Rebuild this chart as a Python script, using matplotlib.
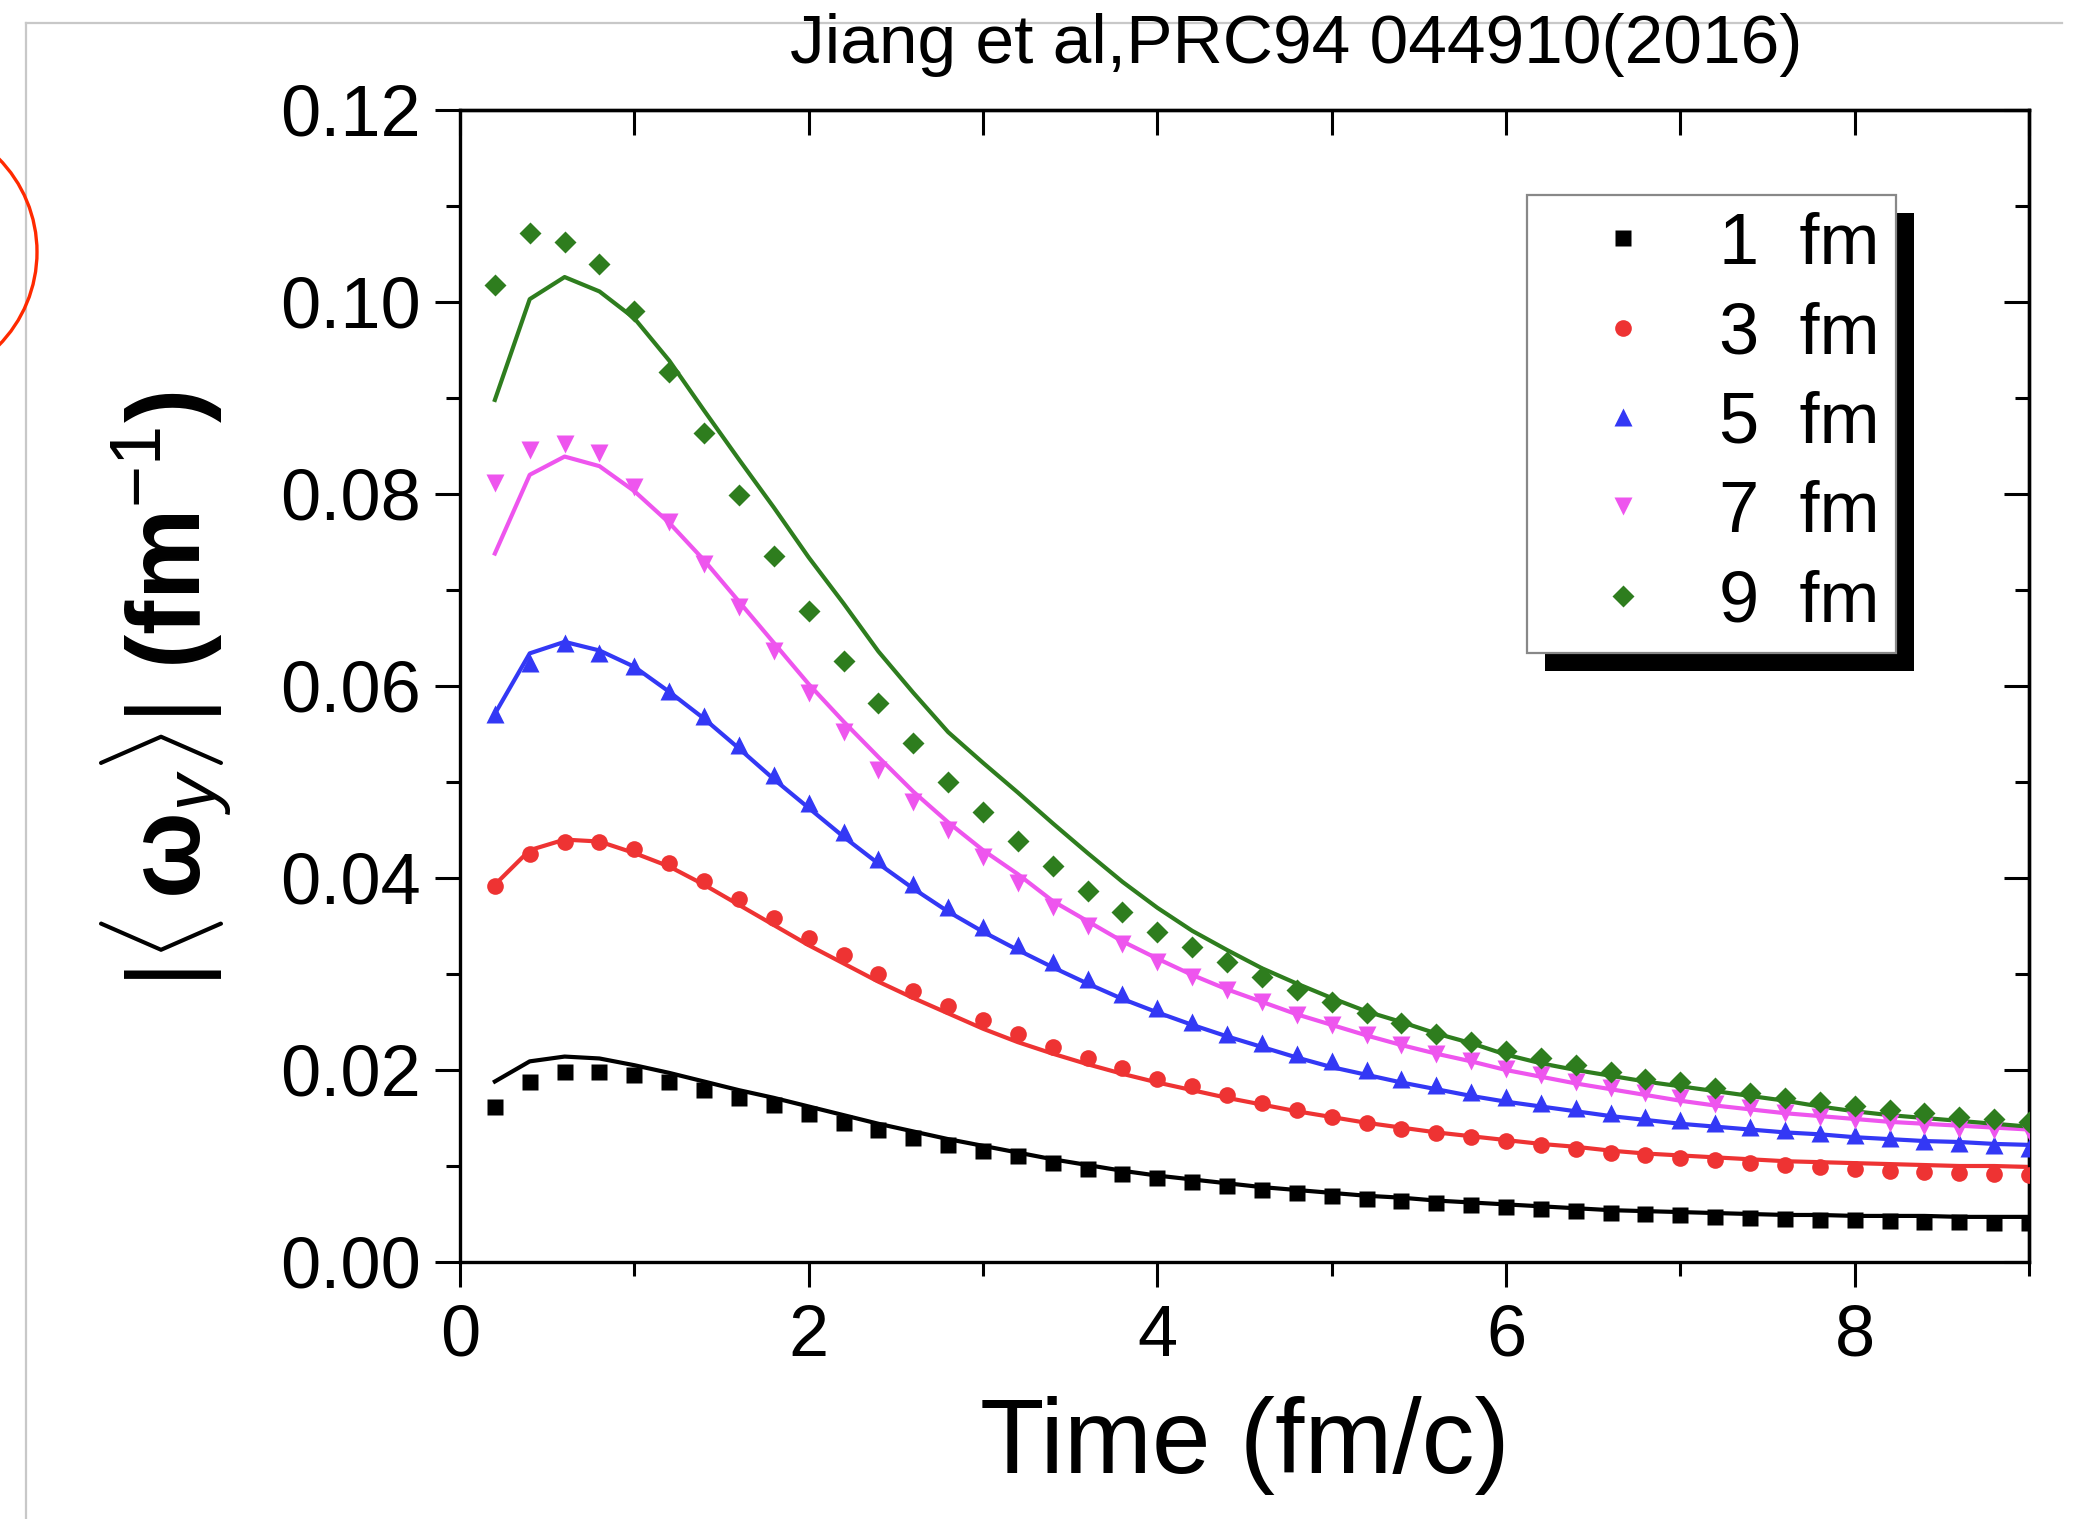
import matplotlib
matplotlib.use("Agg")
import matplotlib.pyplot as plt
from matplotlib.patches import Ellipse, Rectangle
from matplotlib.lines import Line2D
from matplotlib.ticker import MultipleLocator, FormatStrFormatter

plt.rcParams['font.family'] = ['Liberation Sans', 'DejaVu Sans']
plt.rcParams['mathtext.fontset'] = 'custom'
plt.rcParams['mathtext.rm'] = 'Liberation Sans'
plt.rcParams['mathtext.it'] = 'Liberation Sans:italic'
plt.rcParams['mathtext.bf'] = 'Liberation Sans:bold'

# time steps (fm/c)
t = [0.2, 0.4, 0.6, 0.8, 1.0, 1.2, 1.4, 1.6, 1.8, 2.0, 2.2, 2.4, 2.6, 2.8, 3.0,
     3.2, 3.4, 3.6, 3.8, 4.0, 4.2, 4.4, 4.6, 4.8, 5.0, 5.2, 5.4, 5.6, 5.8, 6.0,
     6.2, 6.4, 6.6, 6.8, 7.0, 7.2, 7.4, 7.6, 7.8, 8.0, 8.2, 8.4, 8.6, 8.8, 9.0]

labels = ["1  fm", "3  fm", "5  fm", "7  fm", "9  fm"]

# symbols
b1_pts = [.0161, .0188, .0198, .0198, .0195, .0188, .0179, .0171, .0164, .0154, .0145, .0137, .0129, .0122, .0116,
          .0110, .0103, .0097, .0092, .0087, .0083, .0079, .0075, .0072, .0069, .0066, .0064, .0061, .0059, .0057,
          .0055, .0053, .0051, .0050, .0049, .0047, .0046, .0045, .0044, .0044, .0043, .0042, .0042, .0041, .0041]
b3_pts = [.0392, .0425, .0437, .0437, .0430, .0416, .0397, .0378, .0358, .0337, .0320, .0300, .0282, .0267, .0252,
          .0238, .0224, .0212, .0202, .0191, .0183, .0174, .0166, .0158, .0151, .0145, .0139, .0134, .0130, .0126,
          .0122, .0118, .0114, .0111, .0108, .0106, .0103, .0101, .0099, .0097, .0095, .0094, .0093, .0092, .0091]
b5_pts = [.0571, .0624, .0645, .0634, .0621, .0595, .0569, .0539, .0507, .0478, .0448, .0420, .0394, .0370, .0349,
          .0330, .0312, .0295, .0279, .0265, .0250, .0238, .0228, .0217, .0209, .0200, .0191, .0184, .0177, .0172,
          .0166, .0160, .0155, .0151, .0148, .0145, .0141, .0138, .0134, .0132, .0129, .0126, .0124, .0122, .0119]
b7_pts = [.0811, .0846, .0852, .0843, .0807, .0771, .0727, .0682, .0636, .0593, .0552, .0512, .0479, .0450, .0422,
          .0395, .0370, .0350, .0331, .0313, .0297, .0283, .0271, .0257, .0247, .0236, .0226, .0217, .0209, .0201,
          .0195, .0188, .0181, .0176, .0171, .0165, .0160, .0155, .0151, .0148, .0145, .0142, .0139, .0137, .0136]
b9_pts = [.1018, .1072, .1063, .1040, .0991, .0927, .0864, .0799, .0735, .0678, .0626, .0582, .0541, .0500, .0469,
          .0439, .0412, .0386, .0365, .0344, .0328, .0312, .0297, .0283, .0271, .0259, .0249, .0238, .0229, .0220,
          .0212, .0205, .0198, .0191, .0187, .0181, .0176, .0171, .0167, .0163, .0158, .0155, .0151, .0149, .0146]

# lines
b1_line = [.0188, .0209, .0214, .0212, .0205, .0197, .0188, .0179, .0171, .0162, .0153, .0144, .0136, .0128, .0121,
           .0114, .0107, .0101, .0095, .0090, .0086, .0082, .0078, .0075, .0072, .0069, .0067, .0064, .0062, .0060,
           .0058, .0056, .0054, .0053, .0052, .0051, .0050, .0049, .0049, .0048, .0048, .0048, .0047, .0047, .0047]
b3_line = [.0393, .0429, .0440, .0438, .0426, .0412, .0393, .0372, .0351, .0330, .0311, .0292, .0275, .0259, .0243,
           .0229, .0217, .0206, .0196, .0187, .0179, .0171, .0164, .0157, .0151, .0145, .0140, .0135, .0131, .0127,
           .0123, .0120, .0116, .0113, .0111, .0109, .0107, .0105, .0104, .0103, .0102, .0101, .0100, .0100, .0099]
b5_line = [.0571, .0634, .0646, .0637, .0620, .0594, .0566, .0535, .0503, .0473, .0443, .0415, .0389, .0365, .0344,
           .0325, .0307, .0290, .0274, .0260, .0247, .0235, .0224, .0213, .0203, .0195, .0187, .0180, .0173, .0167,
           .0162, .0157, .0152, .0148, .0144, .0141, .0138, .0135, .0133, .0130, .0128, .0126, .0125, .0123, .0122]
b7_line = [.0738, .0820, .0839, .0829, .0803, .0770, .0731, .0688, .0645, .0602, .0563, .0526, .0490, .0458, .0429,
           .0404, .0376, .0355, .0334, .0316, .0299, .0284, .0271, .0258, .0247, .0236, .0226, .0217, .0209, .0200,
           .0193, .0186, .0180, .0174, .0168, .0163, .0159, .0155, .0152, .0149, .0146, .0144, .0142, .0140, .0138]
b9_line = [.0898, .1003, .1026, .1011, .0983, .0939, .0887, .0836, .0786, .0734, .0686, .0636, .0593, .0552, .0520,
           .0489, .0457, .0426, .0396, .0369, .0345, .0325, .0306, .0290, .0275, .0261, .0250, .0238, .0228, .0216,
           .0207, .0200, .0194, .0188, .0183, .0178, .0173, .0168, .0162, .0157, .0153, .0150, .0147, .0144, .0141]

colors = ['black', '#EE3333', '#3338F5', '#EE55EE', '#2E7D1E']
markers = ['s', 'o', '^', 'v', 'D']
msizes = [11, 12, 13.5, 13.5, 11]
pts = [b1_pts, b3_pts, b5_pts, b7_pts, b9_pts]
lines = [b1_line, b3_line, b5_line, b7_line, b9_line]

fig = plt.figure(figsize=(20.9, 15.19), dpi=100)
ax = fig.add_axes([460 / 2090, 1 - 1262 / 1519, (2029 - 460) / 2090, (1262 - 110) / 1519])

handles = []
for i in range(5):
    ax.plot(t, lines[i], color=colors[i], lw=3.0, zorder=2)
    h, = ax.plot(t, pts[i], ls='none', marker=markers[i], ms=msizes[i],
                 mfc=colors[i], mec='none', color=colors[i], zorder=3)
    handles.append(h)

ax.set_xlim(0, 9)
ax.set_ylim(0, 0.12)
ax.xaxis.set_major_locator(MultipleLocator(2))
ax.xaxis.set_minor_locator(MultipleLocator(1))
ax.yaxis.set_major_locator(MultipleLocator(0.02))
ax.yaxis.set_minor_locator(MultipleLocator(0.01))
ax.yaxis.set_major_formatter(FormatStrFormatter('%.2f'))

for s in ax.spines.values():
    s.set_linewidth(2.4)
ax.tick_params(which='both', direction='out', width=2.2, labelsize=52, top=False, right=False)
ax.tick_params(which='major', length=18)
ax.tick_params(which='minor', length=10)
ax.tick_params(axis='y', pad=10)
ax.tick_params(axis='x', pad=12)

# inward ticks on the top and right spines
top = ax.secondary_xaxis('top')
top.xaxis.set_major_locator(MultipleLocator(1))
right = ax.secondary_yaxis('right')
right.yaxis.set_major_locator(MultipleLocator(0.02))
right.yaxis.set_minor_locator(MultipleLocator(0.01))
for sec in (top, right):
    sec.tick_params(which='both', direction='in', width=2.2, labeltop=False, labelright=False,
                    labelleft=False, labelbottom=False)
    sec.tick_params(which='major', length=18)
    sec.tick_params(which='minor', length=10)
    for s in sec.spines.values():
        s.set_linewidth(2.4)

ax.set_xlabel('Time (fm/c)', fontsize=76, labelpad=18)
fig.text(166 / 2090, 1 - 690 / 1519, r'$|\langle\,$ω$_y\rangle|$ (fm$^{-1}$)',
         fontsize=74, fontweight='bold', rotation=90, ha='center', va='center')

leg = ax.legend(handles, labels, loc='upper left',
                bbox_to_anchor=(1527 / 2090, 1 - 195 / 1519), bbox_transform=fig.transFigure,
                fontsize=52, frameon=True, fancybox=False, borderpad=0.23,
                handlelength=2.2, handletextpad=0.23, labelspacing=0.31, borderaxespad=0)
leg.get_frame().set_edgecolor('#888888')
leg.get_frame().set_linewidth(1.6)
leg.get_frame().set_alpha(1)
leg.set_zorder(7)

# title and slide decorations
fig.text(1296 / 2090, 1 - 63 / 1519, 'Jiang et al,PRC94 044910(2016)', fontsize=50,
         ha='center', va='baseline', zorder=5)
fig.add_artist(Line2D([26 / 2090, 26 / 2090], [0, 1 - 23 / 1519], color='#C8C8C8', lw=1.6, zorder=0))
fig.add_artist(Line2D([26 / 2090, 2062 / 2090], [1 - 23 / 1519, 1 - 23 / 1519], color='#C8C8C8', lw=1.6, zorder=0))
fig.add_artist(Ellipse((-96 / 2090, 1 - 252 / 1519), 266 / 2090, 266 / 1519, fill=False,
                       ec='#FF2A00', lw=2.4))

# legend drop shadow
fig.canvas.draw()
bb = leg.get_window_extent().transformed(fig.transFigure.inverted())
ax.add_patch(Rectangle((bb.x0 + 18 / 2090, bb.y0 - 18 / 1519), bb.width, bb.height,
                       transform=fig.transFigure, fc='black', ec='none', zorder=6, clip_on=False))

fig.savefig('out.png', dpi=100)
